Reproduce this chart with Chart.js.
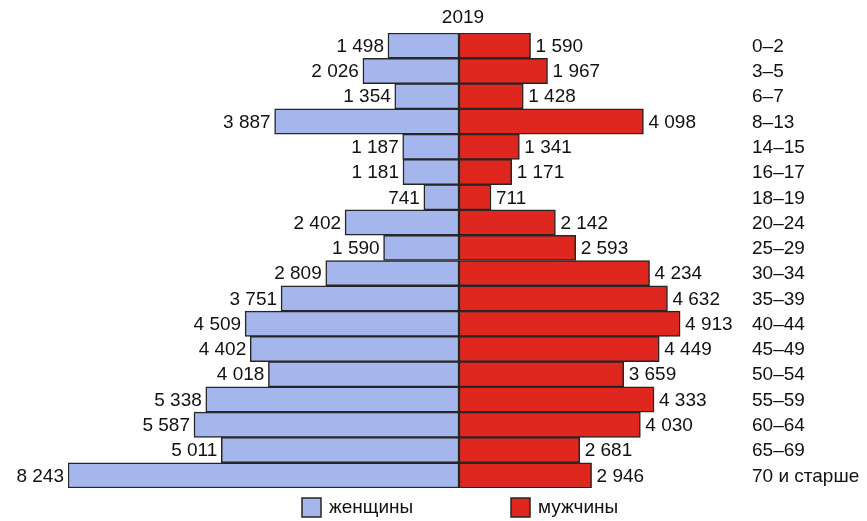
<!DOCTYPE html>
<html lang="ru">
<head>
<meta charset="utf-8">
<title>2019</title>
<script src="https://cdn.jsdelivr.net/npm/chart.js@4/dist/chart.umd.min.js"></script>
<style>
    html, body { margin: 0; padding: 0; background: #fff; }
    #wrap { width: 867px; height: 521px; position: relative; }
</style>
</head>
<body>
<div id="wrap"><canvas id="pyramid"></canvas></div>
<script>
// Age-sex pyramid, 2019.

const TITLE = '2019';
const AGES = ['0–2', '3–5', '6–7', '8–13', '14–15', '16–17', '18–19', '20–24', '25–29',
    '30–34', '35–39', '40–44', '45–49', '50–54', '55–59', '60–64', '65–69', '70 и старше'];
const WOMEN = [1498, 2026, 1354, 3887, 1187, 1181, 741, 2402, 1590, 2809, 3751, 4509, 4402, 4018, 5338, 5587, 5011, 8243];
const MEN = [1590, 1967, 1428, 4098, 1341, 1171, 711, 2142, 2593, 4234, 4632, 4913, 4449, 3659, 4333, 4030, 2681, 2946];
const LEGEND = ['женщины', 'мужчины'];

const BLUE = '#a4b6ec';
const RED = '#e0271f';
const EDGE = '#262626';
const INK = '#111';
const FONT = '19px "Liberation Sans", Arial, sans-serif';

const fmt = (v) => String(v).replace(/\B(?=(\d{3})+(?!\d))/g, ' ');

const textPlugin = {
    id: 'pyramidText',
    afterDatasetsDraw(chart) {
        const { ctx, scales } = chart;
        const xw = scales.xw;
        const xm = scales.xm;
        const y = scales.y;
        ctx.save();
        ctx.font = FONT;
        ctx.fillStyle = INK;
        ctx.textBaseline = 'middle';

        // title over the centre line
        ctx.textAlign = 'center';
        ctx.fillText(TITLE, xw.getPixelForValue(0) + 4, 18);

        AGES.forEach((age, i) => {
            const yy = y.getPixelForValue(i) + 1;
            ctx.textAlign = 'right';
            ctx.fillText(fmt(WOMEN[i]), xw.getPixelForValue(-WOMEN[i]) - 4, yy);
            ctx.textAlign = 'left';
            ctx.fillText(fmt(MEN[i]), xm.getPixelForValue(MEN[i]) + 5, yy);
            ctx.fillText(age, 752, yy);
        });

        // legend
        const items = [
            { label: LEGEND[0], color: BLUE, x: 302 },
            { label: LEGEND[1], color: RED, x: 511 },
        ];
        items.forEach((it) => {
            ctx.fillStyle = it.color;
            ctx.fillRect(it.x, 498, 19, 19);
            ctx.strokeStyle = EDGE;
            ctx.lineWidth = 1.5;
            ctx.strokeRect(it.x, 498, 19, 19);
            ctx.fillStyle = INK;
            ctx.textAlign = 'left';
            ctx.fillText(it.label, it.x + 27, 508);
        });
        ctx.restore();
    },
};

new Chart(document.getElementById('pyramid'), {
    type: 'bar',
    data: {
        labels: AGES,
        datasets: [
            {
                label: LEGEND[0],
                data: WOMEN.map((v) => -v),
                xAxisID: 'xw',
                backgroundColor: BLUE,
                borderColor: EDGE,
                borderWidth: 1.5,
                borderSkipped: false,
                grouped: false,
            },
            {
                label: LEGEND[1],
                data: MEN,
                xAxisID: 'xm',
                backgroundColor: RED,
                borderColor: EDGE,
                borderWidth: 1.5,
                borderSkipped: false,
                grouped: false,
            },
        ],
    },
    options: {
        indexAxis: 'y',
        responsive: true,
        maintainAspectRatio: false,
        animation: false,
        layout: { padding: { left: 68, right: 127, top: 33, bottom: 33 } },
        datasets: { bar: { barPercentage: 1, categoryPercentage: 1 } },
        plugins: {
            legend: { display: false },
            title: { display: false },
            tooltip: { enabled: false },
        },
        scales: {
            // the printed chart draws the men's side a bit tighter than the women's
            xw: { axis: 'x', position: 'bottom', display: false, min: -8243, max: 5924 },
            xm: { axis: 'x', position: 'bottom', display: false, min: -8689, max: 6244 },
            y: { stacked: true, display: false },
        },
    },
    plugins: [textPlugin],
});
</script>
</body>
</html>
